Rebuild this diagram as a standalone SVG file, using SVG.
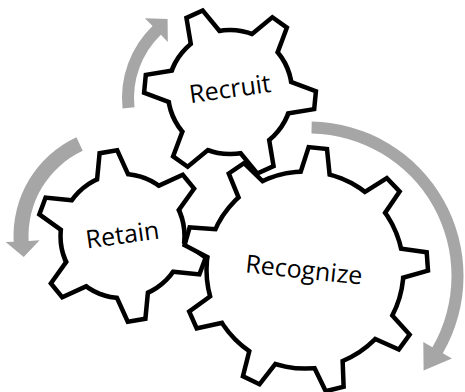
<svg xmlns="http://www.w3.org/2000/svg" xmlns:xlink="http://www.w3.org/1999/xlink" width="465" height="392" viewBox="0 0 465 392">
  <style>
    .rim { fill: #000; stroke: #000; stroke-width: 9; stroke-linejoin: miter; }
    .face { fill: #fff; stroke: none; }
    .label { font-family: "Open Sans", "Liberation Sans", sans-serif; font-size: 25px; fill: #000; text-anchor: middle; }
    .cycle { fill: #a6a6a6; stroke: none; }
  </style>
  <defs>
    <!-- tooth outlines pointing along +x; the rim layer strokes them, the face layer fills them -->
    <polygon id="tooth-small" points="48,-16.6 83.2,-7.2 83.2,7.2 48,16.6"/>
    <polygon id="tooth-large" points="85,-14.8 120.4,-7.4 120.4,7.4 85,14.8"/>
  </defs>

  <rect width="465" height="392" fill="#fff"/>

  <!-- curved cycle arrows around the gears -->
  <g id="connectors">
    <path id="arrow-retain-to-recruit" class="cycle" d="M122.55,108.45 A100,100 0 0 1 152.53,26.07 L144.89,18.15 L167.6,18.9 L167.82,41.89 L160.87,34.70 A88,88 0 0 0 134.48,107.20 Z"/>
    <path id="arrow-recruit-to-retain" class="cycle" d="M76.43,137.21 A109,109 0 0 0 13.65,241.71 L5.66,242.12 L23.71,257.0 L39.61,240.34 L28.63,240.92 A94,94 0 0 1 82.77,150.81 Z"/>
    <path id="arrow-recognize" class="cycle" d="M311.70,121.52 A154.5,154.5 0 0 1 442.81,353.25 L451.9,358.5 L423.6,370.5 L423.3,342 L432.41,347.25 A142.5,142.5 0 0 0 311.49,133.53 Z"/>
  </g>

  <!-- gear: Recruit -->
  <g id="gear-recruit" transform="translate(230,92)">
    <g class="rim">
      <circle r="59.75"/>
      <use xlink:href="#tooth-small" transform="rotate(5.5)"/>
      <use xlink:href="#tooth-small" transform="rotate(65.5)"/>
      <use xlink:href="#tooth-small" transform="rotate(125.5)"/>
      <use xlink:href="#tooth-small" transform="rotate(185.5)"/>
      <use xlink:href="#tooth-small" transform="rotate(245.5)"/>
      <use xlink:href="#tooth-small" transform="rotate(305.5)"/>
    </g>
    <g class="face">
      <circle r="59.75"/>
      <use xlink:href="#tooth-small" transform="rotate(5.5)"/>
      <use xlink:href="#tooth-small" transform="rotate(65.5)"/>
      <use xlink:href="#tooth-small" transform="rotate(125.5)"/>
      <use xlink:href="#tooth-small" transform="rotate(185.5)"/>
      <use xlink:href="#tooth-small" transform="rotate(245.5)"/>
      <use xlink:href="#tooth-small" transform="rotate(305.5)"/>
    </g>
    <text class="label" transform="translate(0,-3) rotate(-8)" y="8.5">Recruit</text>
  </g>

  <!-- gear: Retain -->
  <g id="gear-retain" transform="translate(122.5,236)">
    <g class="rim">
      <circle r="59.75"/>
      <use xlink:href="#tooth-small" transform="rotate(20.5)"/>
      <use xlink:href="#tooth-small" transform="rotate(80.5)"/>
      <use xlink:href="#tooth-small" transform="rotate(140.5)"/>
      <use xlink:href="#tooth-small" transform="rotate(200.5)"/>
      <use xlink:href="#tooth-small" transform="rotate(260.5)"/>
      <use xlink:href="#tooth-small" transform="rotate(320.5)"/>
    </g>
    <g class="face">
      <circle r="59.75"/>
      <use xlink:href="#tooth-small" transform="rotate(20.5)"/>
      <use xlink:href="#tooth-small" transform="rotate(80.5)"/>
      <use xlink:href="#tooth-small" transform="rotate(140.5)"/>
      <use xlink:href="#tooth-small" transform="rotate(200.5)"/>
      <use xlink:href="#tooth-small" transform="rotate(260.5)"/>
      <use xlink:href="#tooth-small" transform="rotate(320.5)"/>
    </g>
    <text class="label" transform="translate(0,-1) rotate(-8)" y="8.5">Retain</text>
  </g>

  <!-- gear: Recognize -->
  <g id="gear-recognize" transform="translate(305,270)">
    <g class="rim">
      <circle r="96.25"/>
      <use xlink:href="#tooth-large" transform="rotate(-4)"/>
      <use xlink:href="#tooth-large" transform="rotate(36)"/>
      <use xlink:href="#tooth-large" transform="rotate(76)"/>
      <use xlink:href="#tooth-large" transform="rotate(116)"/>
      <use xlink:href="#tooth-large" transform="rotate(156)"/>
      <use xlink:href="#tooth-large" transform="rotate(196)"/>
      <use xlink:href="#tooth-large" transform="rotate(236)"/>
      <use xlink:href="#tooth-large" transform="rotate(276)"/>
      <use xlink:href="#tooth-large" transform="rotate(316)"/>
    </g>
    <g class="face">
      <circle r="96.25"/>
      <use xlink:href="#tooth-large" transform="rotate(-4)"/>
      <use xlink:href="#tooth-large" transform="rotate(36)"/>
      <use xlink:href="#tooth-large" transform="rotate(76)"/>
      <use xlink:href="#tooth-large" transform="rotate(116)"/>
      <use xlink:href="#tooth-large" transform="rotate(156)"/>
      <use xlink:href="#tooth-large" transform="rotate(196)"/>
      <use xlink:href="#tooth-large" transform="rotate(236)"/>
      <use xlink:href="#tooth-large" transform="rotate(276)"/>
      <use xlink:href="#tooth-large" transform="rotate(316)"/>
    </g>
    <text class="label" transform="translate(-1,0) rotate(6)" y="8.5">Recognize</text>
  </g>
</svg>
